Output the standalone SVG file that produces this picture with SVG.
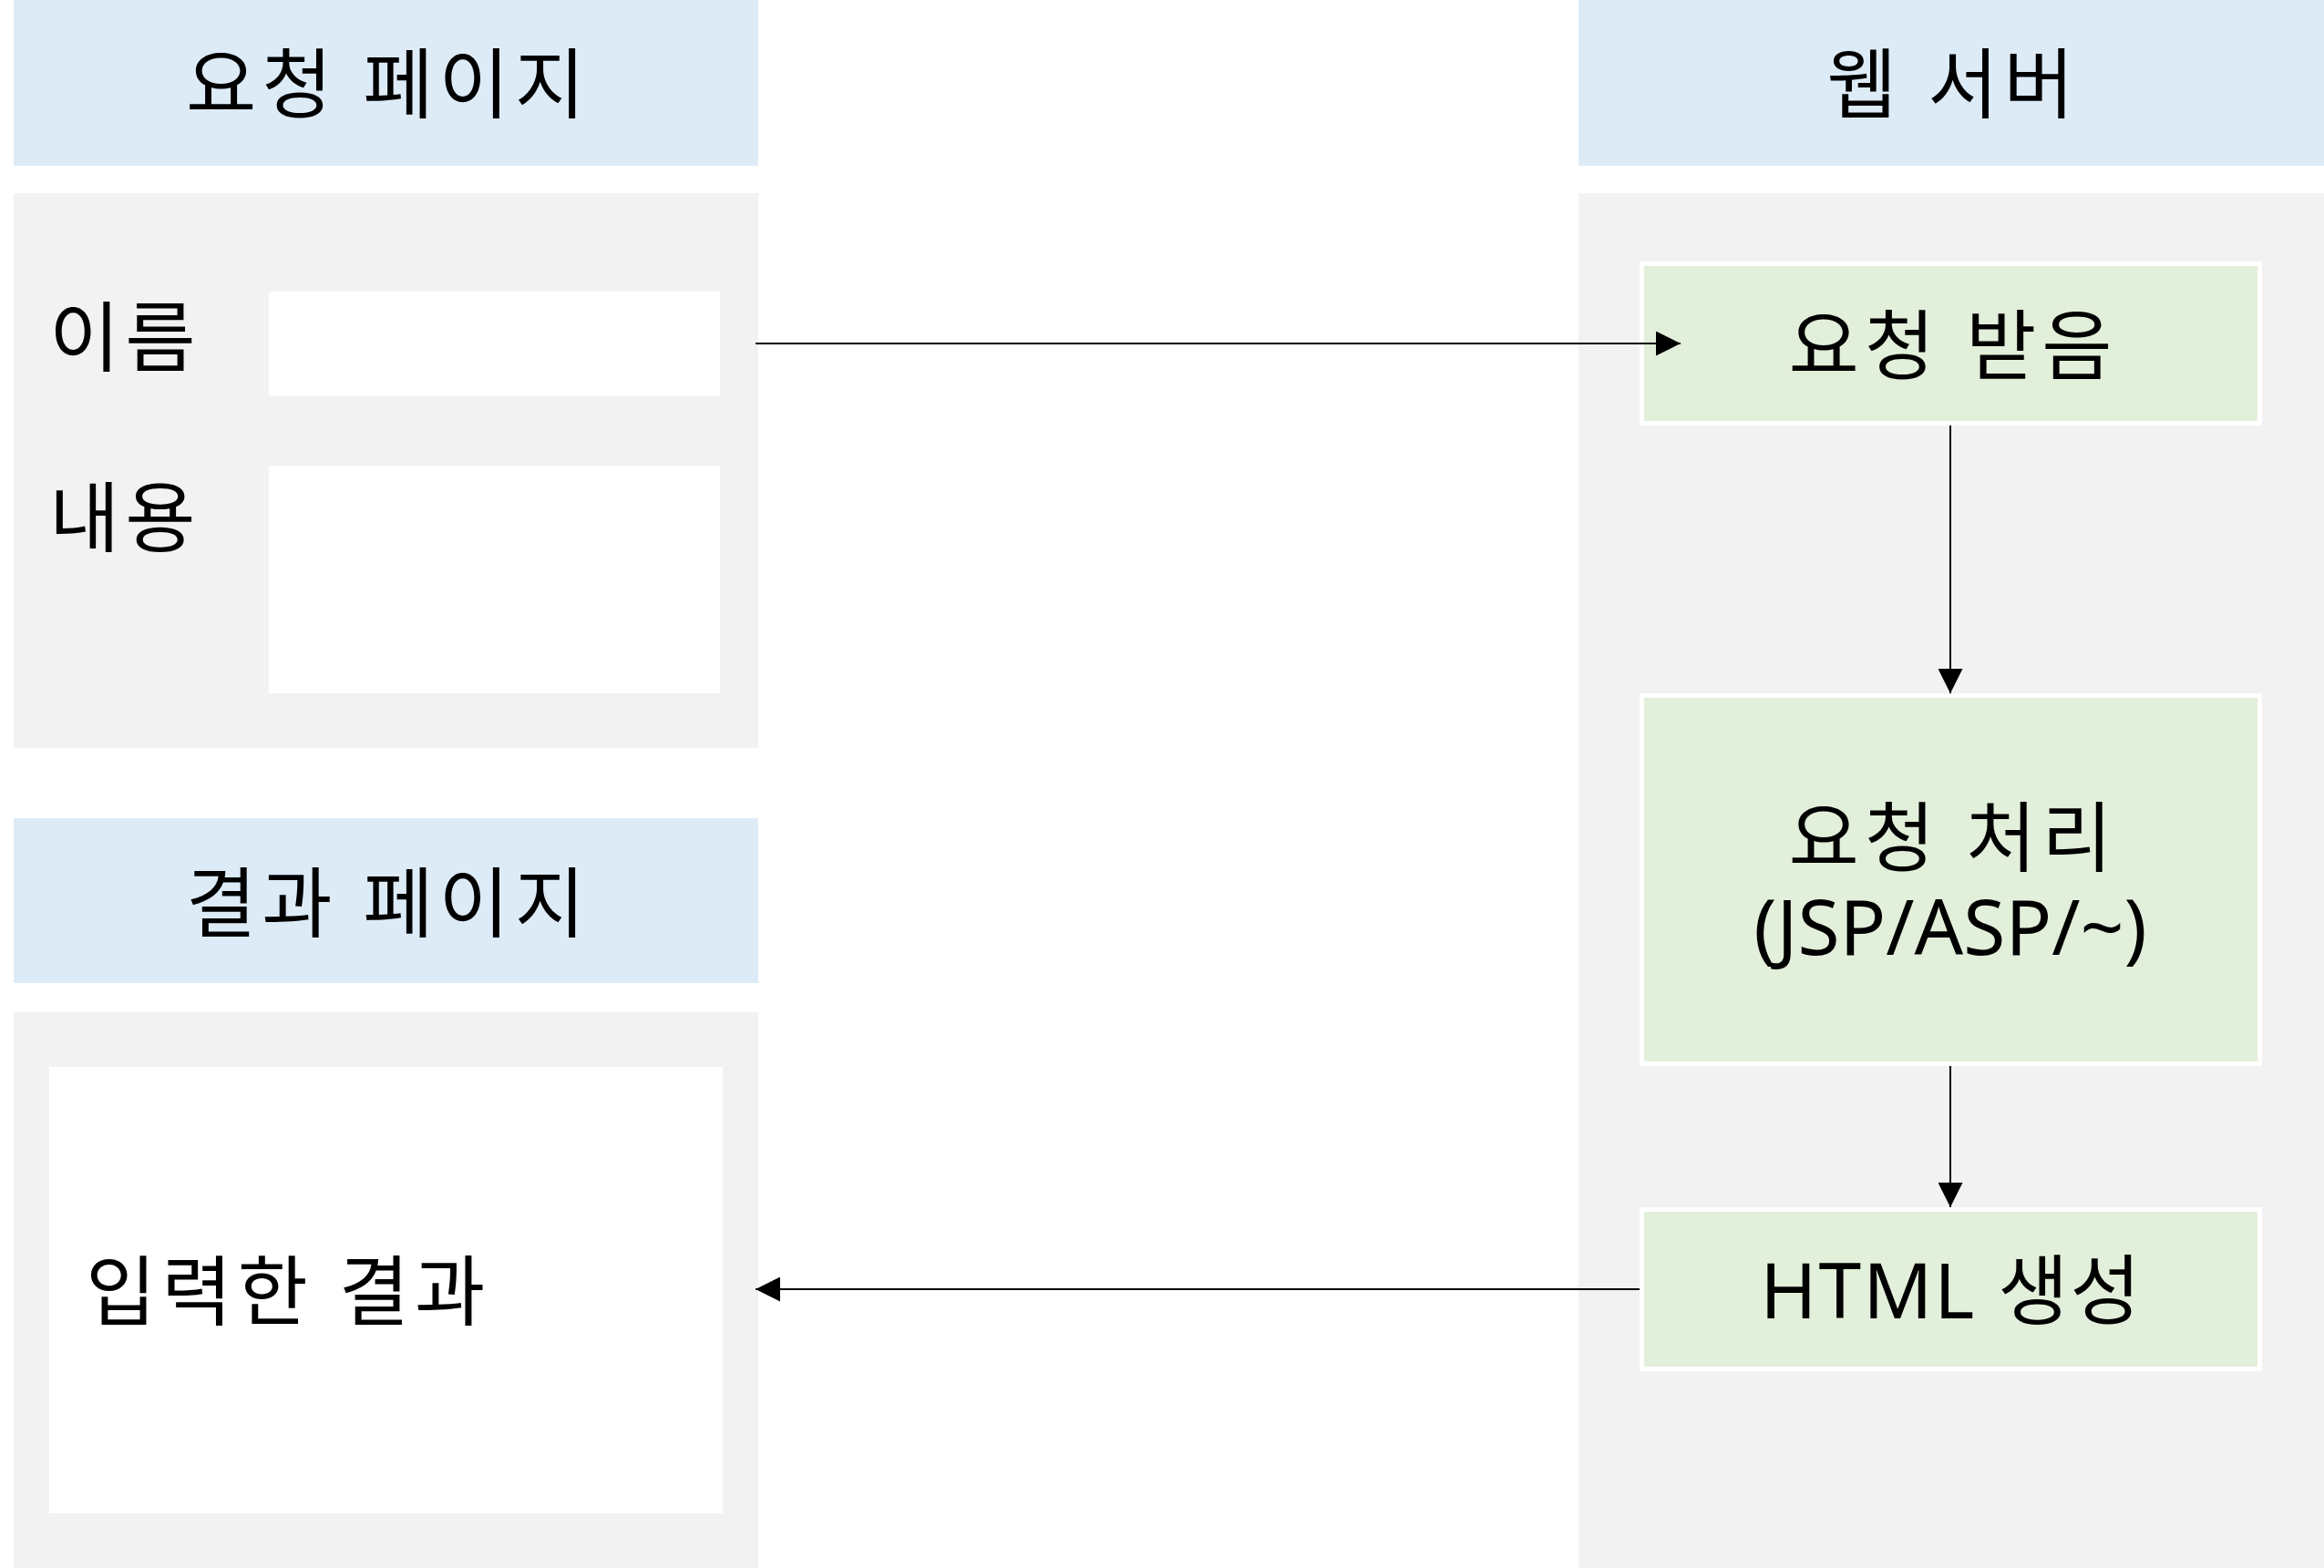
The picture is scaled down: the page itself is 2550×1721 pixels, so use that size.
<svg xmlns="http://www.w3.org/2000/svg" width="2550" height="1721" viewBox="0 0 2550 1721">
<style>
.hdr{fill:#DDEBF7}
.panel{fill:#F2F2F2}
.input{fill:#FFFFFF}
.proc{fill:#E2EFDA;stroke:#FFFFFF;stroke-width:5}
text{font-family:"Noto Sans","Noto Sans CJK KR",sans-serif;font-size:84px;fill:#000000}
.k{letter-spacing:6px}
.c{text-anchor:middle}
.conn{stroke:#000000;stroke-width:2;fill:none}
</style>
<defs>
<marker id="arr" markerUnits="userSpaceOnUse" markerWidth="27" markerHeight="27" refX="27" refY="13.5" orient="auto">
<path d="M0,0 L27,13.5 L0,27 z" fill="#000000"/>
</marker>
</defs>
<rect width="2550" height="1721" fill="#FFFFFF"/>
<g id="request-page-header">
<rect class="hdr" x="15" y="0" width="817" height="182"/>
<text class="c k" x="426" y="123">요청 페이지</text>
</g>
<g id="request-page">
<rect class="panel" x="15" y="212" width="817" height="609"/>
<text class="k" x="54" y="401">이름</text>
<rect class="input" x="295" y="320" width="495" height="115"/>
<text class="k" x="54" y="599">내용</text>
<rect class="input" x="295" y="511" width="495" height="250"/>
</g>
<g id="result-page-header">
<rect class="hdr" x="15" y="898" width="817" height="181"/>
<text class="c k" x="426" y="1022">결과 페이지</text>
</g>
<g id="result-page">
<rect class="panel" x="15" y="1111" width="817" height="610"/>
<rect class="input" x="54" y="1171" width="739" height="490"/>
<text class="k" x="94" y="1448">입력한 결과</text>
</g>
<g id="web-server-header">
<rect class="hdr" x="1732" y="0" width="818" height="182"/>
<text class="c k" x="2143" y="123">웹 서버</text>
</g>
<g id="web-server">
<rect class="panel" x="1732" y="212" width="818" height="1509"/>
</g>
<g id="receive">
<rect class="proc" x="1801.5" y="289.5" width="678" height="175"/>
<text class="c k" x="2143" y="410">요청 받음</text>
</g>
<g id="process">
<rect class="proc" x="1801.5" y="763.5" width="678" height="404"/>
<text class="c"><tspan class="k" x="2143" y="950">요청 처리</tspan><tspan x="2140" y="1048">(JSP/ASP/~)</tspan></text>
</g>
<g id="generate">
<rect class="proc" x="1801.5" y="1327.5" width="678" height="175"/>
<text class="c" x="2141" y="1447" style="letter-spacing:2px">HTML 생성</text>
</g>
<g id="connectors">
<line class="conn" x1="829" y1="377" x2="1844" y2="377" marker-end="url(#arr)"/>
<line class="conn" x1="2140" y1="467" x2="2140" y2="761" marker-end="url(#arr)"/>
<line class="conn" x1="2140" y1="1170" x2="2140" y2="1325" marker-end="url(#arr)"/>
<line class="conn" x1="1799" y1="1415" x2="829" y2="1415" marker-end="url(#arr)"/>
</g>
</svg>
